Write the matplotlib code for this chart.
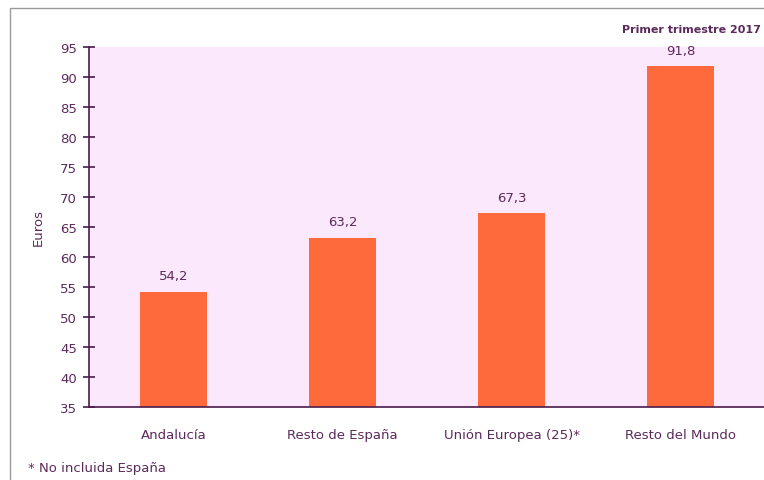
import matplotlib
matplotlib.use("Agg")
import matplotlib.pyplot as plt
from matplotlib.patches import Rectangle

# Data
categories = ["Andalucía", "Resto de España", "Unión Europea (25)*", "Resto del Mundo"]
values = [54.2, 63.2, 67.3, 91.8]
y_ticks = list(range(35, 100, 5))

TEXT = "#5B2A5B"
AXIS = "#4A1B4A"
BAR = "#FF6A3D"
BG = "#FCE8FC"

plt.rcParams["font.family"] = ["DejaVu Sans"]

W, H = 764, 481
fig = plt.figure(figsize=(W / 100, H / 100), dpi=100)

# outer grey frame (left/top edges visible)
fig.patches.append(Rectangle((10 / W, -0.01), 1.0, (H - 9) / H + 0.01,
                             transform=fig.transFigure, fill=False,
                             edgecolor="#9A9A9A", linewidth=1.0))

ax = fig.add_axes([89 / W, 73 / H, 676 / W, 360 / H])
ax.set_facecolor(BG)

x = list(range(len(categories)))
ax.bar(x, values, width=0.40, color=BAR, zorder=2)

for xi, v in zip(x, values):
    ax.text(xi, v + 1.6, f"{v:.1f}".replace(".", ","), ha="center", va="bottom",
            fontsize=9.5, color=TEXT)

ax.set_xlim(-0.5, len(categories) - 0.5)
ax.set_ylim(35, 95)
ax.set_yticks(y_ticks)
ax.set_xticks(x)
ax.set_xticklabels(categories)

ax.tick_params(axis="y", direction="inout", length=9, width=1.2, color=AXIS,
               labelcolor=TEXT, labelsize=9.5, pad=4)
ax.tick_params(axis="x", length=0, labelcolor=TEXT, labelsize=9.5, pad=15)

for side in ["top", "right"]:
    ax.spines[side].set_visible(False)
for side in ["left", "bottom"]:
    ax.spines[side].set_color(AXIS)
    ax.spines[side].set_linewidth(1.2)

ax.set_ylabel("Euros", color=TEXT, fontsize=9.5, labelpad=11)

fig.text(761 / W, 1 - 30 / H, "Primer trimestre 2017", ha="right", va="center",
         fontsize=8, fontweight="bold", color=TEXT)
fig.text(28 / W, 1 - 469 / H, "* No incluida España", ha="left", va="center",
         fontsize=9.5, color=TEXT)

fig.savefig("out.png", dpi=100)
